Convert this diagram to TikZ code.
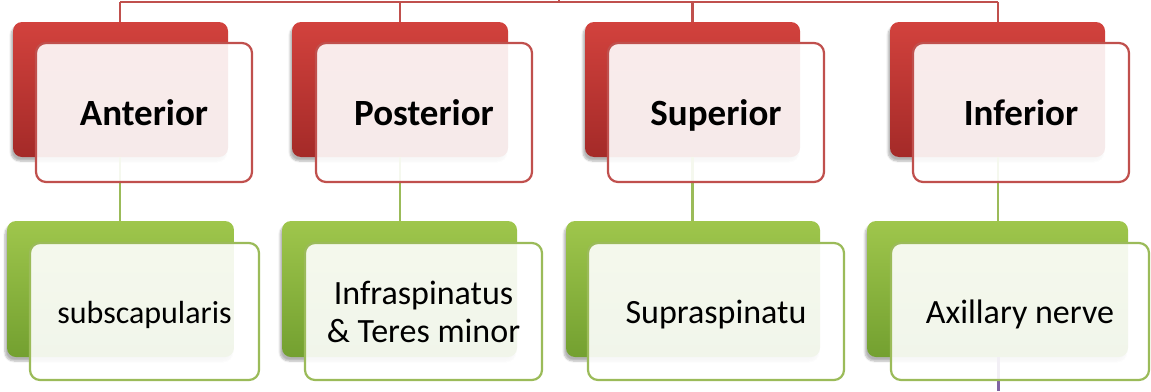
\documentclass[tikz,border=0pt]{standalone}
\usepackage{fontspec}
\setmainfont{Carlito}
\usetikzlibrary{shadows.blur}
\definecolor{redA}{HTML}{D2423D}
\definecolor{redB}{HTML}{A42A28}
\definecolor{redline}{HTML}{C0504D}
\definecolor{grnA}{HTML}{9FC64C}
\definecolor{grnB}{HTML}{73A030}
\definecolor{grnline}{HTML}{9BBB59}
\definecolor{purp}{HTML}{8064A2}
\tikzset{
  backred/.style={rectangle, rounded corners=9pt, inner sep=0pt, draw=none,
    top color=redA, bottom color=redB,
    blur shadow={shadow xshift=-2pt, shadow yshift=-4pt, shadow blur steps=6, shadow opacity=30}},
  backgrn/.style={rectangle, rounded corners=9pt, inner sep=0pt, draw=none,
    top color=grnA, bottom color=grnB,
    blur shadow={shadow xshift=-2pt, shadow yshift=-4pt, shadow blur steps=6, shadow opacity=30}},
  frontred/.style={rectangle, rounded corners=10pt, inner sep=0pt, draw=redline,
    line width=2.2pt, fill=white, fill opacity=0.9, text opacity=1,
    font=\fontsize{37}{42}\selectfont\bfseries, align=center,
    text height=26pt, text depth=0pt},
  frontgrn/.style={rectangle, rounded corners=10pt, inner sep=0pt, draw=grnline,
    line width=2.2pt, fill=white, fill opacity=0.9, text opacity=1,
    font=\fontsize{34}{38}\selectfont, align=center,
    text depth=0pt},
  redconn/.style={draw=redline, line width=2.2pt},
  grnconn/.style={draw=grnline, line width=2.4pt},
  purpconn/.style={draw=purp, line width=3pt}
}
\begin{document}
\begin{tikzpicture}[x=1pt,y=-1pt]
\useasboundingbox (0,0) rectangle (1151,391);
\coordinate (top) at (559,0);
\coordinate (bus) at (559,2);
\coordinate (busL) at (120,2);
\coordinate (busR) at (998,2);
\coordinate (bot) at (998,391);

% back boxes
\node[backred, minimum width=215pt, minimum height=135pt] (bA) at (120.5,89.5) {};
\node[backred, minimum width=216pt, minimum height=135pt] (bP) at (400,89.5) {};
\node[backred, minimum width=215pt, minimum height=135pt] (bS) at (692.5,89.5) {};
\node[backred, minimum width=215pt, minimum height=135pt] (bI) at (997.5,89.5) {};

\node[backgrn, minimum width=227pt, minimum height=136pt] (gA) at (120.5,289) {};
\node[backgrn, minimum width=235pt, minimum height=136pt] (gP) at (399.5,289) {};
\node[backgrn, minimum width=254pt, minimum height=136pt] (gS) at (693,289) {};
\node[backgrn, minimum width=261pt, minimum height=136pt] (gI) at (997.5,289) {};

% connectors
\draw[redconn] (top) -- (bus);
\draw[redconn] (busL) -- (busR);
\draw[redconn] (busL) -- (bA.north -| busL);
\draw[redconn] (bP.north |- bus) -- (bP.north);
\draw[redconn] (bS.north |- bus) -- (bS.north);
\draw[redconn] (busR) -- (bI.north -| busR);

\draw[grnconn] (bA.south -| busL) -- (gA.north -| busL);
\draw[grnconn] (bP.south) -- (gP.north -| bP.south);
\draw[grnconn] (bS.south) -- (gS.north -| bS.south);
\draw[grnconn] (bI.south -| busR) -- (gI.north -| busR);
\draw[purpconn] (gI.south -| bot) -- (bot);

% front boxes
\node[frontred, minimum width=216pt, minimum height=139pt] (fA) at (144,112.5) {Anterior};
\node[frontred, minimum width=216pt, minimum height=139pt] (fP) at (424,112.5) {Posterior};
\node[frontred, minimum width=216pt, minimum height=139pt] (fS) at (716,112.5) {Superior};
\node[frontred, minimum width=216pt, minimum height=139pt] (fI) at (1021,112.5) {Inferior};

\node[frontgrn, minimum width=229pt, minimum height=137pt, font=\fontsize{32}{38}\selectfont, text height=23pt] (tA) at (144.5,311.5) {subscapularis};
\node[frontgrn, minimum width=237pt, minimum height=137pt] (tP) at (423.5,311.5) {Infraspinatus\\\& Teres minor};
\node[frontgrn, minimum width=256pt, minimum height=137pt, text height=24pt] (tS) at (716,311.5) {Supraspinatu};
\node[frontgrn, minimum width=258pt, minimum height=137pt, text height=24pt] (tI) at (1020,311.5) {Axillary nerve};
\end{tikzpicture}
\end{document}
